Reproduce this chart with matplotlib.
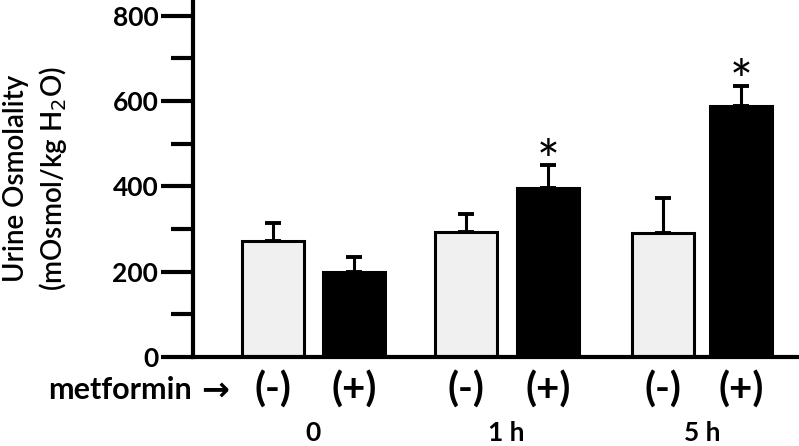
import numpy as np
import matplotlib.pyplot as plt

plt.rcParams['font.family'] = ['Lato', 'DejaVu Sans']

# bar values
groups = ['0', '1 h', '5 h']
treat = ['(-)', '(+)', '(-)', '(+)', '(-)', '(+)']
means = [272, 199, 293, 396, 291, 589]
errs = [42, 36, 42, 54, 82, 47]
signif = [False, False, False, True, False, True]

pos = np.array([0.80, 1.61, 2.725, 3.55, 4.70, 5.48])
colors = ['#f0f0f0', 'black'] * 3

fig = plt.figure(figsize=(7.99, 4.46), dpi=100)
ax = fig.add_axes([193 / 799, 89 / 446, 606 / 799, 357 / 446])

ax.bar(pos, means, width=0.62, color=colors, edgecolor='black', linewidth=2.2,
       zorder=2)
ax.errorbar(pos, means, yerr=[np.zeros(6), errs], fmt='none', ecolor='black',
            elinewidth=2.2, capsize=6, capthick=2.8, zorder=1)

for p, m, e, s in zip(pos, means, errs, signif):
    if s:
        ax.text(p, m + e - 32, '*', ha='center', va='baseline', fontsize=39)

ax.set_xlim(0, 6.06)
ax.set_ylim(0, 837)
ax.set_yticks([0, 200, 400, 600, 800])
ax.set_yticks([100, 300, 500, 700], minor=True)
ax.tick_params(axis='y', which='major', length=23, width=3, labelsize=19,
               pad=2, direction='out')
ax.tick_params(axis='y', which='minor', length=16, width=3)
for lab in ax.get_yticklabels():
    lab.set_fontweight('bold')
ax.set_xticks([])
for side in ['top', 'right']:
    ax.spines[side].set_visible(False)
ax.spines['left'].set_linewidth(3)
ax.spines['bottom'].set_linewidth(3)

ax.set_ylabel('Urine Osmolality\n(mOsmol/kg H$_2$O)', fontsize=20,
              fontweight='semibold', linespacing=1.3)
ax.yaxis.set_label_coords(-0.205, 0.5)

# treatment labels under bars
for p, t in zip(pos, treat):
    ax.text(p, -77, t, ha='center', va='center', fontsize=29,
            fontweight='bold', clip_on=False)
ax.text(-0.01, -77, 'metformin', ha='right', va='center', fontsize=22,
        fontweight='bold', clip_on=False)
ax.text(0.22, -77, '\u2192', ha='center', va='center', fontsize=24,
        fontweight='bold', family='DejaVu Sans', clip_on=False)

for i, g in enumerate(groups):
    c = (pos[2 * i] + pos[2 * i + 1]) / 2
    ax.text(c, -178, g, ha='center', va='center', fontsize=19,
            fontweight='bold', clip_on=False)

fig.savefig('out.png', dpi=100)
